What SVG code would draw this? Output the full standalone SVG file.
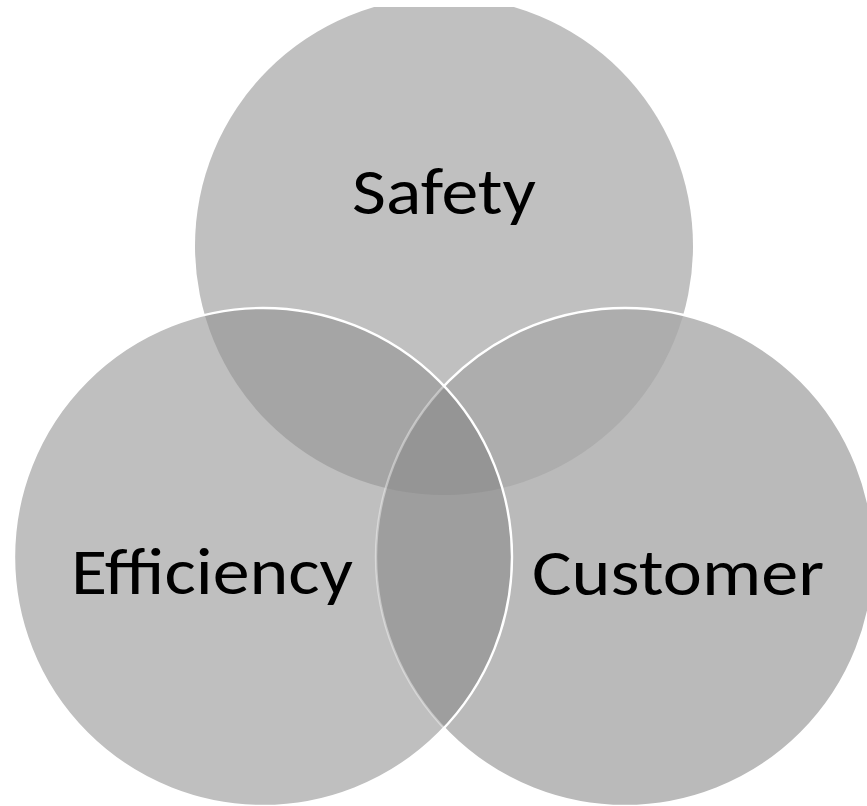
<svg xmlns="http://www.w3.org/2000/svg" width="867" height="806" viewBox="0 0 867 806">
<style>
.lbl{font-family:Carlito,Calibri,Lato,"Liberation Sans",sans-serif;font-size:66px;fill:#000;text-anchor:middle}
.edge{fill:none;stroke:#fff;stroke-width:2.4}
</style>
<defs>
<clipPath id="frame"><rect x="0" y="7" width="867" height="799"/></clipPath>
<clipPath id="cT"><circle cx="444" cy="246" r="249"/></clipPath>
<clipPath id="cL"><circle cx="263" cy="557" r="249"/></clipPath>
<clipPath id="cR"><circle cx="625" cy="557" r="249"/></clipPath>
<mask id="outL" maskUnits="userSpaceOnUse" x="0" y="0" width="867" height="806">
<rect x="0" y="0" width="867" height="806" fill="#fff"/>
<circle cx="263" cy="557" r="249" fill="#000"/>
</mask>
</defs>
<g clip-path="url(#frame)">
<g id="safety">
<circle cx="444" cy="246" r="249" fill="#c0c0c0"/>
<text class="lbl" x="444" y="214" textLength="184" lengthAdjust="spacingAndGlyphs">Safety</text>
</g>
<g id="efficiency">
<circle cx="263" cy="557" r="249" fill="#bfbfbf"/>
<text class="lbl" x="212" y="594" textLength="282" lengthAdjust="spacingAndGlyphs">Efficiency</text>
</g>
<g id="customer">
<circle cx="625" cy="557" r="249" fill="#bababa"/>
<text class="lbl" x="678" y="595" textLength="292" lengthAdjust="spacingAndGlyphs">Customer</text>
</g>
<g id="overlaps">
<circle cx="263" cy="557" r="249" fill="#a5a5a5" clip-path="url(#cT)"/>
<circle cx="625" cy="557" r="249" fill="#adadad" clip-path="url(#cT)"/>
<circle cx="263" cy="557" r="249" fill="#9e9e9e" clip-path="url(#cR)"/>
<g clip-path="url(#cT)"><circle cx="263" cy="557" r="249" fill="#959595" clip-path="url(#cR)"/></g>
</g>
<g id="connectors">
<circle class="edge" cx="625" cy="557" r="249" mask="url(#outL)"/>
<circle class="edge" cx="625" cy="557" r="249" stroke-opacity="0.4" clip-path="url(#cL)"/>
<circle class="edge" cx="263" cy="557" r="249"/>
</g>
</g>
</svg>
